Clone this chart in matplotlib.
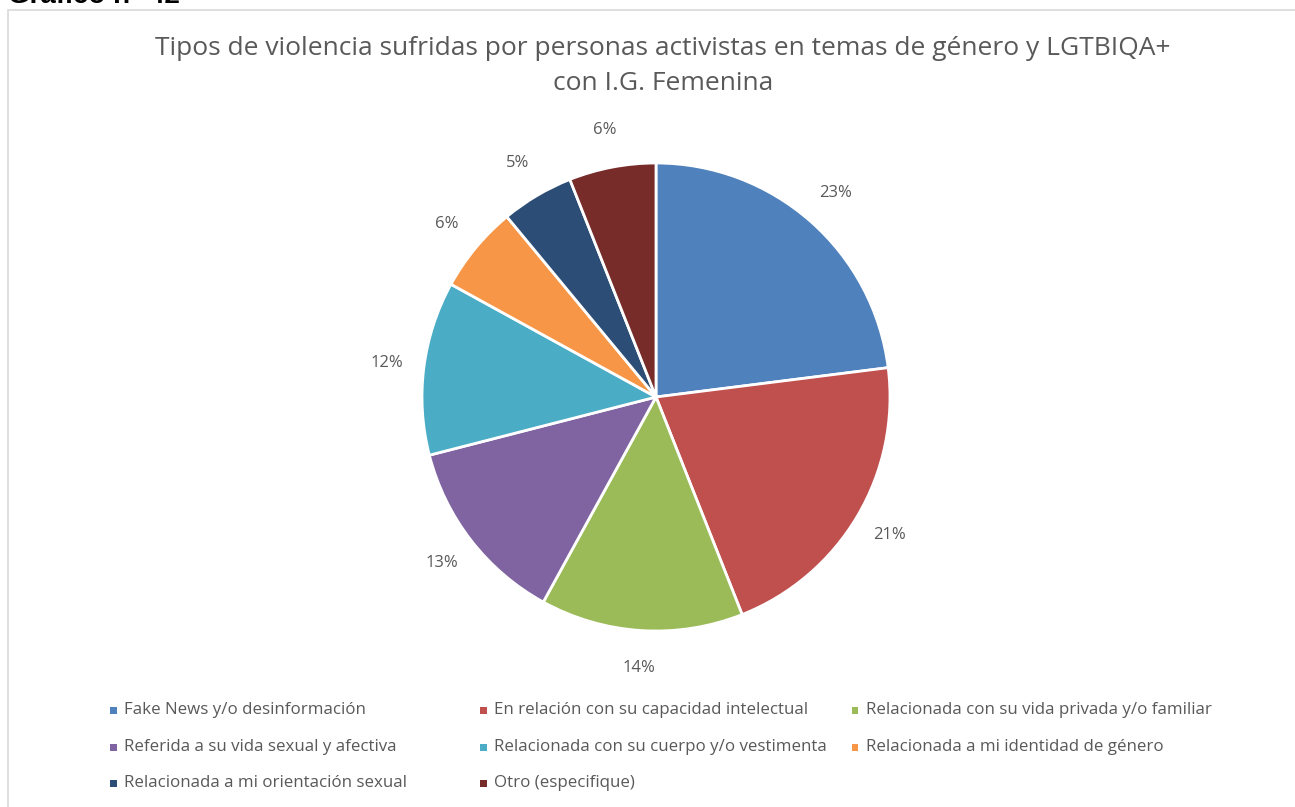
import matplotlib.pyplot as plt
from matplotlib.patches import Rectangle

# ── data ──────────────────────────────────────
CATEGORIES = [
	"Fake News y/o desinformación",
	"En relación con su capacidad intelectual",
	"Relacionada con su vida privada y/o familiar",
	"Referida a su vida sexual y afectiva",
	"Relacionada con su cuerpo y/o vestimenta",
	"Relacionada a mi identidad de género",
	"Relacionada a mi orientación sexual",
	"Otro (especifique)",
]
PERCENTS = [23, 21, 14, 13, 12, 6, 5, 6]
COLORS = ["#4F81BD", "#C0504D", "#9BBB59", "#8064A2",
	"#4BACC6", "#F79646", "#2C4D75", "#772C2A"]

TITLE = "Tipos de violencia sufridas por personas activistas en temas de género y LGTBIQA+\ncon I.G. Femenina"
HEADER = "Gráfico n° 42"

FONT = "Open Sans"
TEXT_GRAY = "#595959"

W, H = 1295, 807
fig = plt.figure(figsize=(W/100, H/100), dpi=100)
fig.patch.set_facecolor("white")

# chart frame
fig.patches.append(Rectangle((8/W, -0.05), 1.2, (H - 10)/H + 0.05, transform=fig.transFigure,
	fill=False, edgecolor="#d9d9d9", linewidth=1.2))

# header partly cut off by the top edge
fig.text(8/W, 1 + 4/H, HEADER, ha="left", va="center", fontsize=20, fontweight="bold",
	family="Liberation Sans", color="black")

fig.text(663/W, 1 - 66/H, TITLE, ha="center", va="center", fontsize=19,
	family=FONT, color=TEXT_GRAY, linespacing=1.55)

# ── pie ───────────────────────────────────────
cx, cy, r = 656, 397, 234
side = 600
ax = fig.add_axes([(cx - side/2)/W, (H - cy - side/2)/H, side/W, side/H])

wedges, texts = ax.pie(PERCENTS, colors=COLORS, startangle=90, counterclock=False,
	labels=[f"{p}%" for p in PERCENTS], labeldistance=1.16,
	wedgeprops=dict(edgecolor="white", linewidth=2))
for t in texts:
	t.set_fontsize(12)
	t.set_family(FONT)
	t.set_color(TEXT_GRAY)
	t.set_ha("center")
	t.set_va("center")

# pie() resets the limits, so fix the scale afterwards
lim = side/2/r
ax.set_xlim(-lim, lim)
ax.set_ylim(-lim, lim)
ax.set_aspect("equal")
ax.axis("off")

# ── legend ────────────────────────────────────
col_x = [113, 483, 855]
row_y = [710, 747, 783]
for i, (name, color) in enumerate(zip(CATEGORIES, COLORS)):
	x = col_x[i % 3]
	y = row_y[i // 3]
	fig.patches.append(Rectangle(((x - 3.5)/W, 1 - (y + 3.5)/H), 7/W, 7/H,
		transform=fig.transFigure, facecolor=color, edgecolor="none"))
	fig.text((x + 11)/W, 1 - y/H, name, ha="left", va="center", fontsize=12.2,
		family=FONT, color=TEXT_GRAY)

plt.savefig("out.png", dpi=100)
plt.close()
